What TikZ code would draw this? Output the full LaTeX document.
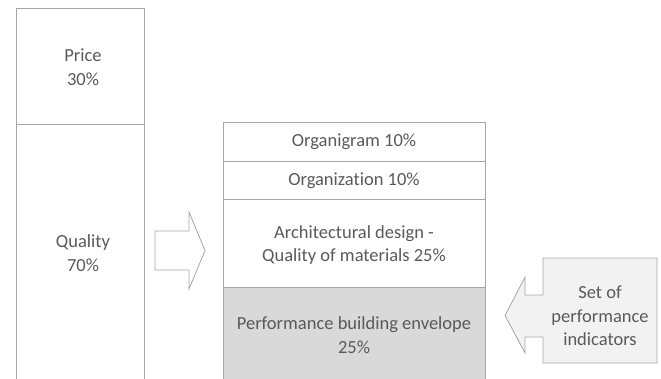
\documentclass[tikz,border=0pt]{standalone}
\usepackage{fontspec}
\setmainfont{Carlito}[Ligatures=NoCommon]
\definecolor{linec}{HTML}{A6A6A6}
\definecolor{textc}{HTML}{595959}
\definecolor{fillg}{HTML}{D9D9D9}
\definecolor{fillc}{HTML}{F2F2F2}
\begin{document}
\begin{tikzpicture}[x=1pt,y=-1pt,
  box/.style={draw=linec, line width=0.8pt},
  lbl/.style={text=textc, align=center, font=\fontsize{18.5}{23.5}\selectfont},
  arr/.style={draw=linec, line width=0.8pt, line join=miter}]
\useasboundingbox (0,0) rectangle (661,378);
\clip (0,0) rectangle (661,378);
% left column
\draw[box] (16,8) rectangle (144,390);
\draw[box] (16,124) -- (144,124);
\node[lbl] (price) at (83,67) {Price\\30\%};
\node[lbl] (quality) at (83,253) {Quality\\70\%};
% right stack
\fill[fillg] (223,287) rectangle (485,390);
\draw[box] (223,122) rectangle (485,390);
\draw[box] (223,161) -- (485,161);
\draw[box] (223,199) -- (485,199);
\draw[box] (223,287) -- (485,287);
\node[lbl] (org1) at (354,142) {Organigram 10\%};
\node[lbl] (org2) at (354,181) {Organization 10\%};
\node[lbl] (arch) at (354,245) {Architectural design -\\Quality of materials 25\%};
\node[lbl] (perf) at (354,335) {Performance building envelope\\25\%};
% right arrow
\draw[arr, fill=white] (155,231) -- (189,231) -- (189,212) -- (205,250.5) -- (189,289) -- (189,270) -- (155,270) -- cycle;
% callout left arrow
\draw[arr, fill=fillc] (657,258) -- (657,363) -- (543,363) -- (543,337) -- (525,337) -- (525,353) -- (505,315.5) -- (525,277) -- (525,295) -- (543,295) -- (543,258) -- cycle;
\node[lbl] (set) at (600,316) {Set of\\performance\\indicators};
\end{tikzpicture}
\end{document}
